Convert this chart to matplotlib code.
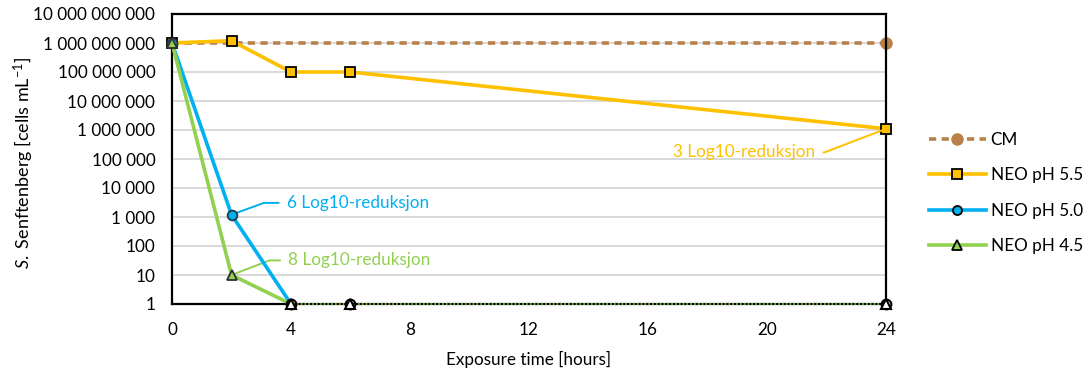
import matplotlib
matplotlib.use("Agg")
import matplotlib.pyplot as plt
from matplotlib.ticker import FixedLocator, FuncFormatter, NullLocator
from matplotlib.lines import Line2D

plt.rcParams['font.family'] = ['Lato', 'DejaVu Sans']
plt.rcParams['mathtext.fontset'] = 'custom'
plt.rcParams['mathtext.rm'] = 'Lato'
plt.rcParams['mathtext.it'] = 'Lato:italic'

hours = [0, 2, 4, 6, 24]
cm_hours = [0, 24]
cm_vals = [1e9, 1e9]
neo55 = [1e9, 1.2e9, 1e8, 1e8, 1.1e6]
neo50 = [1e9, 1.2e3, 1, 1, 1]
neo45 = [1e9, 10, 1, 1, 1]
x_ticks = [0, 4, 8, 12, 16, 20, 24]
y_ticks = [10**k for k in range(0, 11)]

c_cm = '#B9814A'
c55 = '#FFC000'
c50 = '#00B0F0'
c45 = '#92D050'
FS = 12.3

fig = plt.figure(figsize=(10.87, 3.73), dpi=100)
ax = fig.add_axes([172/1087, 1-304/373, (886-172)/1087, (304-14)/373])
ax.set_yscale('log')
ax.set_xlim(0, 24)
ax.set_ylim(1, 1e10)

for y in y_ticks[1:-1]:
    ax.axhline(y, color='#D9D9D9', lw=1.4, zorder=0)

# CM
ax.plot(cm_hours, cm_vals, color=c_cm, lw=2.6, ls=(0, (2.0, 1.5)), marker='o', ms=8,
        mfc=c_cm, mec=c_cm, zorder=2, clip_on=False)
# pH 5.5
ax.plot(hours, neo55, color=c55, lw=2.6, marker='s', ms=7, mfc=c55, mec='black',
        mew=1.3, zorder=3, clip_on=False)
# pH 5.0 and 4.5 drops
ax.plot(hours[:3], neo50[:3], color=c50, lw=2.6, zorder=4, clip_on=False)
ax.plot(hours[:3], neo45[:3], color=c45, lw=2.6, zorder=4, clip_on=False)
# flat parts at detection limit
ax.plot(hours[2:], neo50[2:], color='black', lw=1.1, ls=(0, (1.5, 1.0)), zorder=5, clip_on=False)
ax.plot(hours[2:], neo45[2:], color=c45, lw=1.1, ls=(1.2, (1.2, 1.3)), zorder=5, clip_on=False)
# markers
ax.plot(hours[:2], neo50[:2], ls='none', marker='o', ms=7, mfc=c50, mec='#1F3B4D', mew=1.3,
        zorder=6, clip_on=False)
ax.plot(hours[:2], neo45[:2], ls='none', marker='^', ms=7, mfc=c45, mec='#2F2F2F', mew=1.3,
        zorder=6, clip_on=False)
ax.plot(hours[2:], neo50[2:], ls='none', marker='o', ms=7, mfc='none', mec='black', mew=1.5,
        zorder=6, clip_on=False)
ax.plot(hours[2:], neo45[2:], ls='none', marker='^', ms=7, mfc='white', mec='black', mew=1.5,
        zorder=6, clip_on=False)

for s in ax.spines.values():
    s.set_color('black')
    s.set_linewidth(1.6)

ax.xaxis.set_major_locator(FixedLocator(x_ticks))
ax.yaxis.set_major_locator(FixedLocator(y_ticks))
ax.yaxis.set_minor_locator(NullLocator())
ax.yaxis.set_major_formatter(FuncFormatter(lambda v, p: f"{int(round(v)):,}".replace(',', ' ')))
ax.tick_params(axis='both', length=0, labelsize=FS, colors='black')
ax.tick_params(axis='x', pad=13)
ax.tick_params(axis='y', pad=12)

ax.set_xlabel('Exposure time [hours]', fontsize=FS, labelpad=9)
fig.text(24/1087, 1-163/373, r'$\it{S.}$ Senftenberg [cells mL$^{-1}$]', fontsize=13,
         rotation=90, ha='center', va='center')

# annotations (text offsets in points from the annotated data point)
ann = dict(fontsize=FS, va='center', textcoords='offset points')
ax.annotate('6 Log10-reduksjon', xy=(2, 1.2e3), xytext=(40, 8.5), ha='left', color=c50,
            arrowprops=dict(arrowstyle='-', color=c50, lw=1.4,
                            connectionstyle='angle,angleA=0,angleB=20,rad=0',
                            shrinkA=4, shrinkB=0), **ann)
ax.annotate('8 Log10-reduksjon', xy=(2, 10), xytext=(41, 10.5), ha='left', color=c45,
            arrowprops=dict(arrowstyle='-', color=c45, lw=1.4,
                            connectionstyle='angle,angleA=0,angleB=21,rad=0',
                            shrinkA=4, shrinkB=0), **ann)
ax.annotate('3 Log10-reduksjon', xy=(24, 1.1e6), xytext=(-51, -17), ha='right', color=c55,
            arrowprops=dict(arrowstyle='-', color=c55, lw=1.4,
                            connectionstyle='angle,angleA=0,angleB=21,rad=0',
                            shrinkA=4, shrinkB=0), **ann)

handles = [
    Line2D([], [], color=c_cm, lw=2.6, ls=(0, (2.0, 1.5)), marker='o', ms=8, mfc=c_cm, mec=c_cm),
    Line2D([], [], color=c55, lw=2.6, marker='s', ms=6.5, mfc=c55, mec='black', mew=1.3),
    Line2D([], [], color=c50, lw=2.6, marker='o', ms=6.5, mfc=c50, mec='black', mew=1.3),
    Line2D([], [], color=c45, lw=2.6, marker='^', ms=6.5, mfc=c45, mec='black', mew=1.3),
]
labels = ['CM', 'NEO pH 5.5', 'NEO pH 5.0', 'NEO pH 4.5']
fig.legend(handles, labels, loc='center left', bbox_to_anchor=(924/1087, 1-193/373),
           frameon=False, fontsize=FS, handlelength=3.3, handletextpad=0.3,
           labelspacing=1.15, borderaxespad=0, borderpad=0.3)

fig.savefig('out.png', dpi=100)
